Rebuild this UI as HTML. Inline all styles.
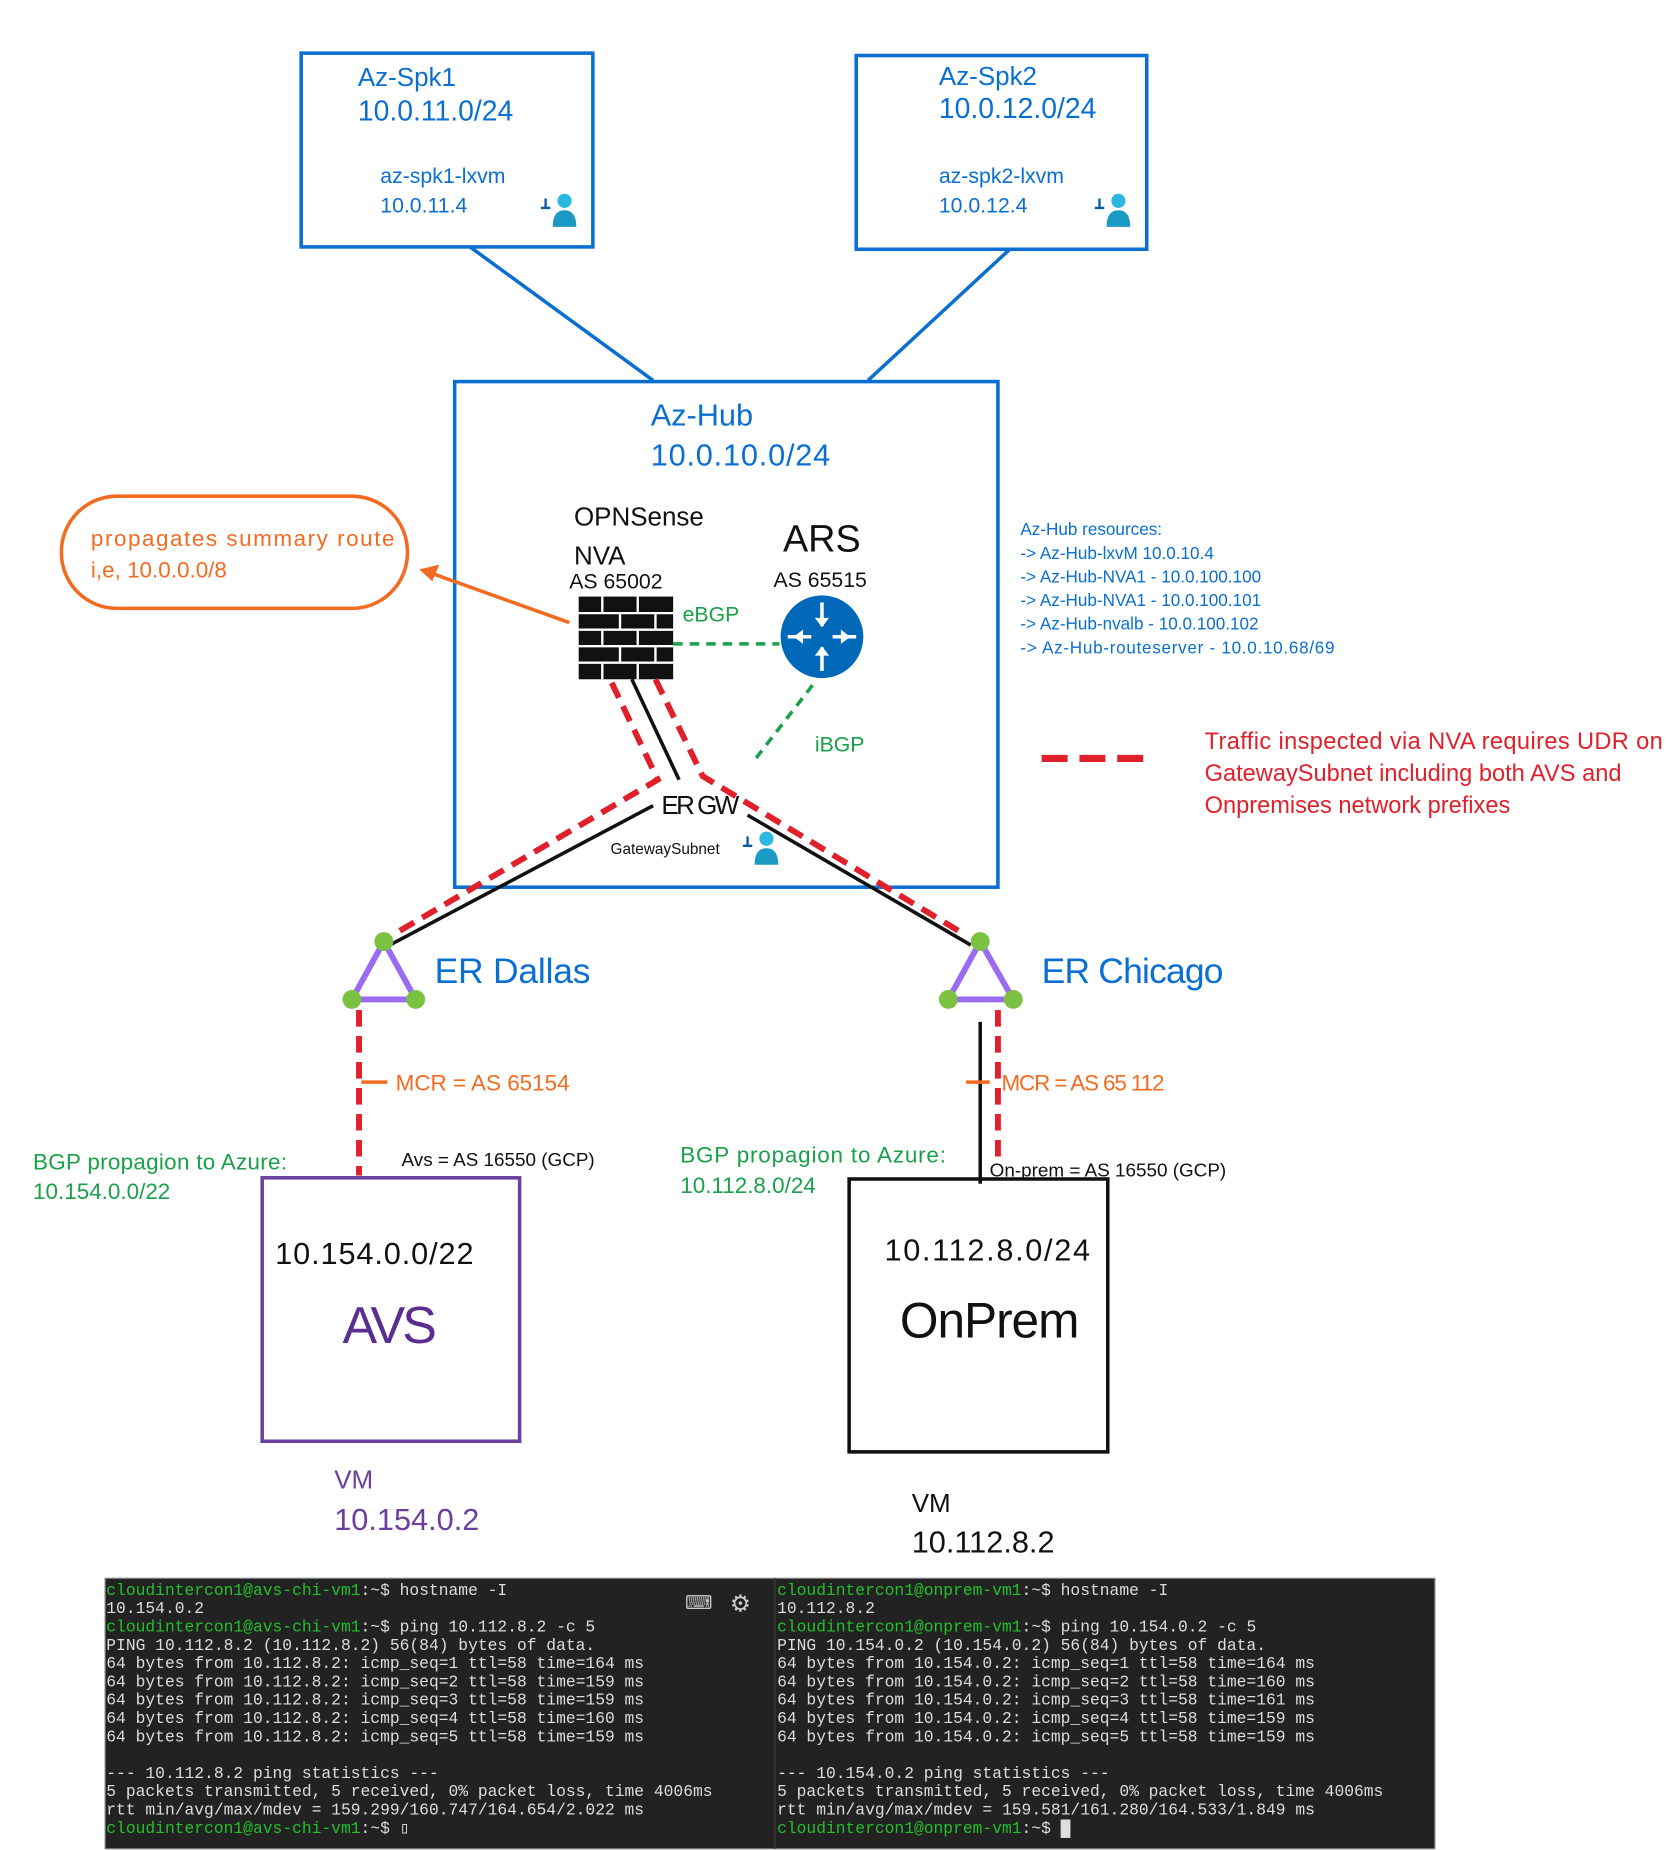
<!DOCTYPE html>
<html><head><meta charset="utf-8"><style>html,body{margin:0;padding:0;background:#fff}svg{display:block}</style></head>
<body>
<svg width="1677" height="1850" viewBox="0 0 1420 1566" preserveAspectRatio="none" xmlns="http://www.w3.org/2000/svg" font-family="Liberation Sans, sans-serif">
<defs>
<g id="user">
<circle cx="8" cy="-8" r="6" fill="#2ab7e0"/>
<path d="M-2 14 Q-2 0 8 0 Q18 0 18 14 Z" fill="#1b9ac5"/>
<path d="M-8 -10 L-8 -2 L-12 -2 M-8 -2 L-4 -2" stroke="#0a5aa0" stroke-width="2" fill="none"/>
</g>
</defs>
<g fill="none" stroke="#0a6fd1" stroke-width="3">
<rect x="255" y="45" width="247" height="164"/>
<rect x="725" y="47" width="246" height="164"/>
<line x1="398" y1="209" x2="553" y2="322"/>
<line x1="855" y1="211" x2="735" y2="322"/>
<rect x="385" y="323" width="460" height="428"/>
</g>
<g fill="#0a6fd1">
<text x="303" y="73" font-size="22">Az-Spk1</text>
<text x="303" y="102" font-size="24">10.0.11.0/24</text>
<text x="322" y="155" font-size="18">az-spk1-lxvm</text>
<text x="322" y="180" font-size="18">10.0.11.4</text>
<text x="795" y="72" font-size="22">Az-Spk2</text>
<text x="795" y="100" font-size="24">10.0.12.0/24</text>
<text x="795" y="155" font-size="18">az-spk2-lxvm</text>
<text x="795" y="180" font-size="18">10.0.12.4</text>
<text x="551" y="360" font-size="26">Az-Hub</text>
<text x="551" y="394" font-size="26" textLength="152">10.0.10.0/24</text>
<g font-size="14.5">
<text x="864" y="453">Az-Hub resources:</text>
<text x="864" y="473">-&gt; Az-Hub-lxvM 10.0.10.4</text>
<text x="864" y="493">-&gt; Az-Hub-NVA1 - 10.0.100.100</text>
<text x="864" y="513">-&gt; Az-Hub-NVA1 - 10.0.100.101</text>
<text x="864" y="533">-&gt; Az-Hub-nvalb - 10.0.100.102</text>
<text x="864" y="553" textLength="266">-&gt; Az-Hub-routeserver - 10.0.10.68/69</text>
</g>
<text x="368" y="832" font-size="30" textLength="132">ER Dallas</text>
<text x="882" y="832" font-size="30" textLength="154">ER Chicago</text>
</g>
<use href="#user" x="470" y="178"/>
<use href="#user" x="939" y="178"/>
<use href="#user" x="641" y="718"/>
<g fill="#111">
<text x="486" y="445" font-size="22">OPNSense</text>
<text x="486" y="478" font-size="22">NVA</text>
<text x="482" y="498" font-size="18">AS 65002</text>
<text x="663" y="467" font-size="32">ARS</text>
<text x="655" y="497" font-size="18">AS 65515</text>
<text x="560" y="689" font-size="22" textLength="66">ER GW</text>
<text x="517" y="723" font-size="13">GatewaySubnet</text>
</g>
<rect x="490" y="505" width="80" height="70" fill="#111"/>
<g stroke="#fff" stroke-width="2">
<line x1="490" y1="519" x2="570" y2="519"/><line x1="490" y1="533" x2="570" y2="533"/>
<line x1="490" y1="547" x2="570" y2="547"/><line x1="490" y1="561" x2="570" y2="561"/>
<line x1="510" y1="505" x2="510" y2="519"/><line x1="540" y1="505" x2="540" y2="519"/>
<line x1="525" y1="519" x2="525" y2="533"/><line x1="555" y1="519" x2="555" y2="533"/>
<line x1="510" y1="533" x2="510" y2="547"/><line x1="540" y1="533" x2="540" y2="547"/>
<line x1="525" y1="547" x2="525" y2="561"/><line x1="555" y1="547" x2="555" y2="561"/>
<line x1="510" y1="561" x2="510" y2="575"/><line x1="540" y1="561" x2="540" y2="575"/>
</g>
<circle cx="696" cy="539" r="35" fill="#0068b8"/>
<g stroke="#fff" stroke-width="3" fill="#fff">
<line x1="696" y1="510" x2="696" y2="530"/><line x1="696" y1="548" x2="696" y2="568"/>
<line x1="667" y1="539" x2="687" y2="539"/><line x1="705" y1="539" x2="725" y2="539"/>
</g>
<g fill="#fff">
<path d="M690 523 L702 523 L696 531Z"/><path d="M690 555 L702 555 L696 547Z"/>
<path d="M680 533 L680 545 L672 539Z"/><path d="M712 533 L712 545 L720 539Z"/>
</g>
<g stroke="#1aa04a" stroke-width="3" stroke-dasharray="8,6" fill="none">
<line x1="570" y1="545" x2="660" y2="545"/>
<line x1="688" y1="580" x2="640" y2="642"/>
</g>
<text x="578" y="526" font-size="18" fill="#1aa04a">eBGP</text>
<text x="690" y="636" font-size="18" fill="#1aa04a">iBGP</text>
<g stroke="#111" stroke-width="3" fill="none">
<line x1="535" y1="575" x2="575" y2="660"/>
<line x1="553" y1="682" x2="330" y2="800"/>
<line x1="633" y1="690" x2="822" y2="800"/>
<line x1="830" y1="865" x2="830" y2="1002"/>
</g>
<g stroke="#e0202a" stroke-width="5" stroke-dasharray="14,8" fill="none">
<polyline points="518,578 557,660 335,790"/>
<polyline points="555,575 595,657 815,790"/>
<line x1="304" y1="855" x2="304" y2="995"/>
<line x1="845" y1="855" x2="845" y2="985"/>
<line x1="882" y1="642" x2="968" y2="642" stroke-width="6" stroke-dasharray="22,10"/>
</g>
<g fill="#e0202a" font-size="20">
<text x="1020" y="634" textLength="388">Traffic inspected via NVA requires UDR on</text>
<text x="1020" y="661">GatewaySubnet including both AVS and</text>
<text x="1020" y="688">Onpremises network prefixes</text>
</g>
<rect x="52" y="420" width="293" height="95" rx="47" fill="none" stroke="#f26b21" stroke-width="3"/>
<text x="77" y="462" font-size="19" fill="#f26b21" textLength="257">propagates summary route</text>
<text x="77" y="489" font-size="19" fill="#f26b21">i,e, 10.0.0.0/8</text>
<line x1="482" y1="527" x2="362" y2="484" stroke="#f26b21" stroke-width="3"/>
<path d="M355 482 L372 478 L366 492Z" fill="#f26b21"/>
<g stroke="#9b6cf0" stroke-width="5" fill="none">
<polygon points="325,797 298,846 352,846"/>
<polygon points="830,797 803,846 858,846"/>
</g>
<g fill="#7cc242">
<circle cx="325" cy="797" r="8"/><circle cx="298" cy="846" r="8"/><circle cx="352" cy="846" r="8"/>
<circle cx="830" cy="797" r="8"/><circle cx="803" cy="846" r="8"/><circle cx="858" cy="846" r="8"/>
</g>
<g stroke="#f26b21" stroke-width="3"><line x1="306" y1="916" x2="328" y2="916"/><line x1="818" y1="916" x2="838" y2="916"/></g>
<g fill="#f26b21" font-size="19">
<text x="335" y="923">MCR = AS 65154</text>
<text x="848" y="923" textLength="138">MCR = AS 65 112</text>
</g>
<g fill="#1aa04a" font-size="19">
<text x="28" y="990" textLength="215">BGP propagion to Azure:</text>
<text x="28" y="1015">10.154.0.0/22</text>
<text x="576" y="984" textLength="225">BGP propagion to Azure:</text>
<text x="576" y="1010">10.112.8.0/24</text>
</g>
<text x="340" y="987" font-size="16" fill="#111">Avs = AS 16550 (GCP)</text>
<text x="838" y="996" font-size="16" fill="#111">On-prem = AS 16550 (GCP)</text>
<rect x="222" y="997" width="218" height="223" fill="none" stroke="#6b3fa0" stroke-width="3"/>
<text x="233" y="1070" font-size="26" fill="#111" textLength="168">10.154.0.0/22</text>
<text x="290" y="1137" font-size="44" fill="#5a2d90" textLength="80">AVS</text>
<rect x="719" y="998" width="219" height="231" fill="none" stroke="#111" stroke-width="3"/>
<text x="749" y="1067" font-size="26" fill="#111" textLength="174">10.112.8.0/24</text>
<text x="762" y="1132" font-size="42" fill="#111" textLength="152">OnPrem</text>
<text x="283" y="1260" font-size="22" fill="#6b3fa0">VM</text>
<text x="283" y="1295" font-size="26" fill="#6b3fa0">10.154.0.2</text>
<text x="772" y="1280" font-size="22" fill="#111">VM</text>
<text x="772" y="1314" font-size="26" fill="#111">10.112.8.2</text>
<rect x="89" y="1336" width="1126" height="229" fill="#222" stroke="#888" stroke-width="1"/>
<line x1="656" y1="1336" x2="656" y2="1565" stroke="#333" stroke-width="2"/>
<text x="580" y="1362" font-size="16" fill="#ccc">⌨</text>
<text x="618" y="1364" font-size="20" fill="#ccc">⚙</text>
<g font-family="Liberation Mono, monospace" font-size="13.8" fill="#ddd">
<text x="90" y="1350"><tspan fill="#22c02a">cloudintercon1@avs-chi-vm1</tspan>:~$ hostname -I</text>
<text x="90" y="1365.5">10.154.0.2</text>
<text x="90" y="1381"><tspan fill="#22c02a">cloudintercon1@avs-chi-vm1</tspan>:~$ ping 10.112.8.2 -c 5</text>
<text x="90" y="1396.5">PING 10.112.8.2 (10.112.8.2) 56(84) bytes of data.</text>
<text x="90" y="1412">64 bytes from 10.112.8.2: icmp_seq=1 ttl=58 time=164 ms</text>
<text x="90" y="1427.5">64 bytes from 10.112.8.2: icmp_seq=2 ttl=58 time=159 ms</text>
<text x="90" y="1443">64 bytes from 10.112.8.2: icmp_seq=3 ttl=58 time=159 ms</text>
<text x="90" y="1458.5">64 bytes from 10.112.8.2: icmp_seq=4 ttl=58 time=160 ms</text>
<text x="90" y="1474">64 bytes from 10.112.8.2: icmp_seq=5 ttl=58 time=159 ms</text>
<text x="90" y="1505">--- 10.112.8.2 ping statistics ---</text>
<text x="90" y="1520.5">5 packets transmitted, 5 received, 0% packet loss, time 4006ms</text>
<text x="90" y="1536">rtt min/avg/max/mdev = 159.299/160.747/164.654/2.022 ms</text>
<text x="90" y="1551.5"><tspan fill="#22c02a">cloudintercon1@avs-chi-vm1</tspan>:~$ ▯</text>
<text x="658" y="1350"><tspan fill="#22c02a">cloudintercon1@onprem-vm1</tspan>:~$ hostname -I</text>
<text x="658" y="1365.5">10.112.8.2</text>
<text x="658" y="1381"><tspan fill="#22c02a">cloudintercon1@onprem-vm1</tspan>:~$ ping 10.154.0.2 -c 5</text>
<text x="658" y="1396.5">PING 10.154.0.2 (10.154.0.2) 56(84) bytes of data.</text>
<text x="658" y="1412">64 bytes from 10.154.0.2: icmp_seq=1 ttl=58 time=164 ms</text>
<text x="658" y="1427.5">64 bytes from 10.154.0.2: icmp_seq=2 ttl=58 time=160 ms</text>
<text x="658" y="1443">64 bytes from 10.154.0.2: icmp_seq=3 ttl=58 time=161 ms</text>
<text x="658" y="1458.5">64 bytes from 10.154.0.2: icmp_seq=4 ttl=58 time=159 ms</text>
<text x="658" y="1474">64 bytes from 10.154.0.2: icmp_seq=5 ttl=58 time=159 ms</text>
<text x="658" y="1505">--- 10.154.0.2 ping statistics ---</text>
<text x="658" y="1520.5">5 packets transmitted, 5 received, 0% packet loss, time 4006ms</text>
<text x="658" y="1536">rtt min/avg/max/mdev = 159.581/161.280/164.533/1.849 ms</text>
<text x="658" y="1551.5"><tspan fill="#22c02a">cloudintercon1@onprem-vm1</tspan>:~$ █</text>
</g>
</svg>
</body></html>
